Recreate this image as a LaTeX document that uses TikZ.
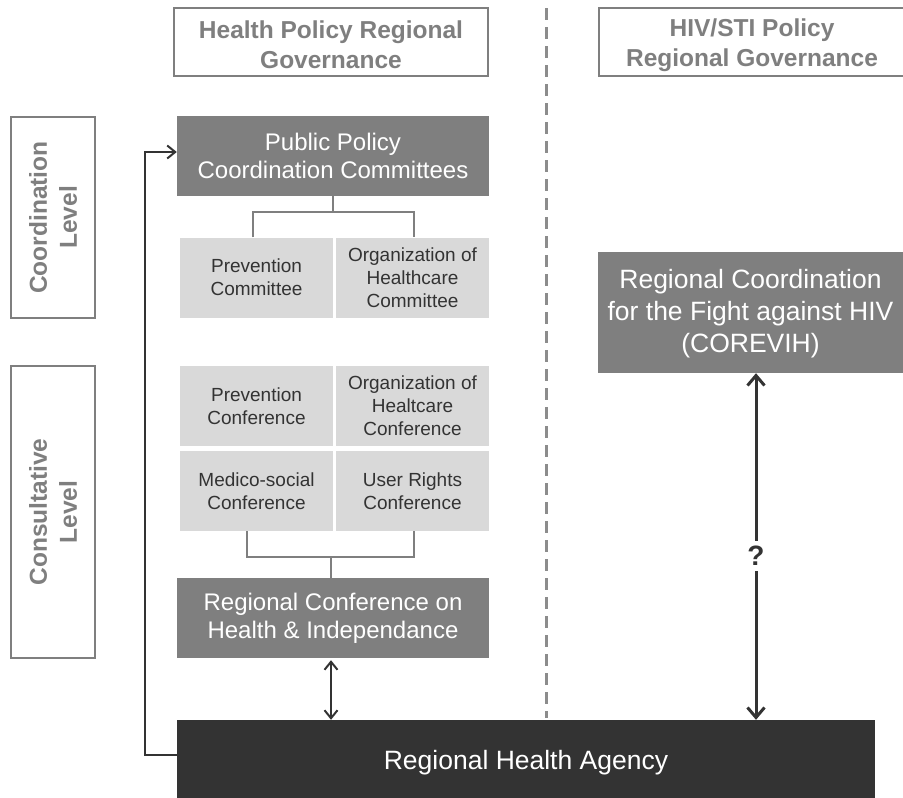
\documentclass[tikz,border=0pt]{standalone}
\usepackage{fontspec}
\setmainfont{Liberation Sans}
\usetikzlibrary{arrows.meta}
\definecolor{dgray}{HTML}{7F7F7F}
\definecolor{lgray}{HTML}{D9D9D9}
\definecolor{vdark}{HTML}{333333}
\definecolor{dashc}{HTML}{8C8C8C}
\tikzset{
  hdr/.style={draw=dgray, line width=2pt, fill=white, inner sep=0pt},
  hdrtext/.style={text=dgray, font=\bfseries\fontsize{24.5}{30}\selectfont, align=center, inner sep=0pt},
  lvl/.style={draw=dgray, line width=2pt, fill=white, inner sep=0pt},
  lvltext/.style={rotate=90, text=dgray, font=\bfseries\fontsize{24.5}{30}\selectfont, align=center},
  darkbox/.style={fill=dgray, text=white, font=\fontsize{24}{28}\selectfont, align=center, inner sep=0pt},
  boxtext/.style={text=white, align=center, inner sep=0pt},
  lightbox/.style={fill=lgray, text=black!80, font=\fontsize{19}{23}\selectfont, align=center, inner sep=0pt, minimum width=153pt, minimum height=80pt},
  rhabox/.style={fill=vdark, inner sep=0pt},
  rhatext/.style={text=white, font=\fontsize{26.5}{30}\selectfont, inner sep=0pt},
  conn/.style={draw=dgray, line width=2pt},
  dbl/.style={draw=vdark, line width=2pt, {Straight Barb[length=8pt,width=13pt]}-{Straight Barb[length=8pt,width=13pt]}},
  bigdbl/.style={draw=vdark, line width=3pt, -{Straight Barb[length=10pt,width=17pt]}},
}
\begin{document}
\begin{tikzpicture}[x=1pt,y=-1pt]
\useasboundingbox (0,0) rectangle (903,798);
% dashed separator
\coordinate (dtop) at (546,8);
\coordinate (dbot) at (546,718);
\draw[dashc, line width=3pt, dash pattern=on 12pt off 7pt] (dtop) -- (dbot);
% headers
\node[hdr, minimum width=314pt, minimum height=68pt] (h1) at (331,42) {};
\node[hdrtext] (h1t) at (331,45) {Health Policy Regional\\Governance};
\node[hdr, minimum width=306pt, minimum height=68pt] (h2) at (752,42) {};
\node[hdrtext] (h2t) at (752,45) {HIV/STI Policy\\Regional Governance};
% level boxes
\node[lvl, minimum width=84pt, minimum height=201pt] (lv1) at (53,217.5) {};
\node[lvltext] (lv1t) at (lv1.center) {Coordination\\Level};
\node[lvl, minimum width=84pt, minimum height=292pt] (lv2) at (53,512) {};
\node[lvltext] (lv2t) at (lv2.center) {Consultative\\Level};
% public policy
\node[darkbox, minimum width=312pt, minimum height=80pt] (pp) at (333,156) {Public Policy\\Coordination Committees};
\node[lightbox] (pc) at (256.5,277.5) {Prevention\\Committee};
\node[lightbox] (oc) at (412.5,277.5) {Organization of\\Healthcare\\Committee};
\coordinate (ppj) at (333,212);
\draw[conn] (pp.south) -- (ppj);
\draw[conn] (pc.north -| 253,0) |- (ppj) -| (oc.north -| 414,0);
% conferences
\node[lightbox] (pcf) at (256.5,406) {Prevention\\Conference};
\node[lightbox] (ocf) at (412.5,406) {Organization of\\Healtcare\\Conference};
\node[lightbox] (mcf) at (256.5,491) {Medico-social\\Conference};
\node[lightbox] (ucf) at (412.5,491) {User Rights\\Conference};
\node[darkbox, minimum width=312pt, minimum height=80pt] (rc) at (333,618) {Regional Conference on\\Health \& Independance};
\coordinate (cfj) at (331,557);
\draw[conn] (mcf.south -| 247,0) |- (cfj) -| (ucf.south -| 414,0);
\draw[conn] (cfj) -- (rc.north -| 331,0);
% COREVIH
\node[darkbox, minimum width=305pt, minimum height=121pt] (cv) at (750.5,312.5) {};
\node[boxtext, font=\fontsize{26.5}{32}\selectfont] (cvt) at (750.5,314) {Regional Coordination\\for the Fight against HIV\\(COREVIH)};
% RHA
\node[rhabox, minimum width=698pt, minimum height=78pt] (rha) at (526,759) {};
\node[rhatext] (rhat) at (526,763) {Regional Health Agency};
% arrows
\draw[dbl] (rc.south -| 331,0) ++(0,2) -- (rha.north -| 331,0);
\coordinate (lcorner1) at (145,755);
\coordinate (lcorner2) at (145,152);
\draw[draw=vdark, line width=2pt, -{Straight Barb[length=8pt,width=13pt]}] (rha.west |- lcorner1) -- (lcorner1) -- (lcorner2) -- (pp.west |- lcorner2);
\node[font=\bfseries\fontsize{28}{30}\selectfont, text=vdark] (q) at (756,556) {?};
\draw[bigdbl] (q.north) ++(0,-2) -- (cv.south -| 756,0);
\draw[bigdbl] (q.south) ++(0,2) -- (rha.north -| 756,0);
\end{tikzpicture}
\end{document}
